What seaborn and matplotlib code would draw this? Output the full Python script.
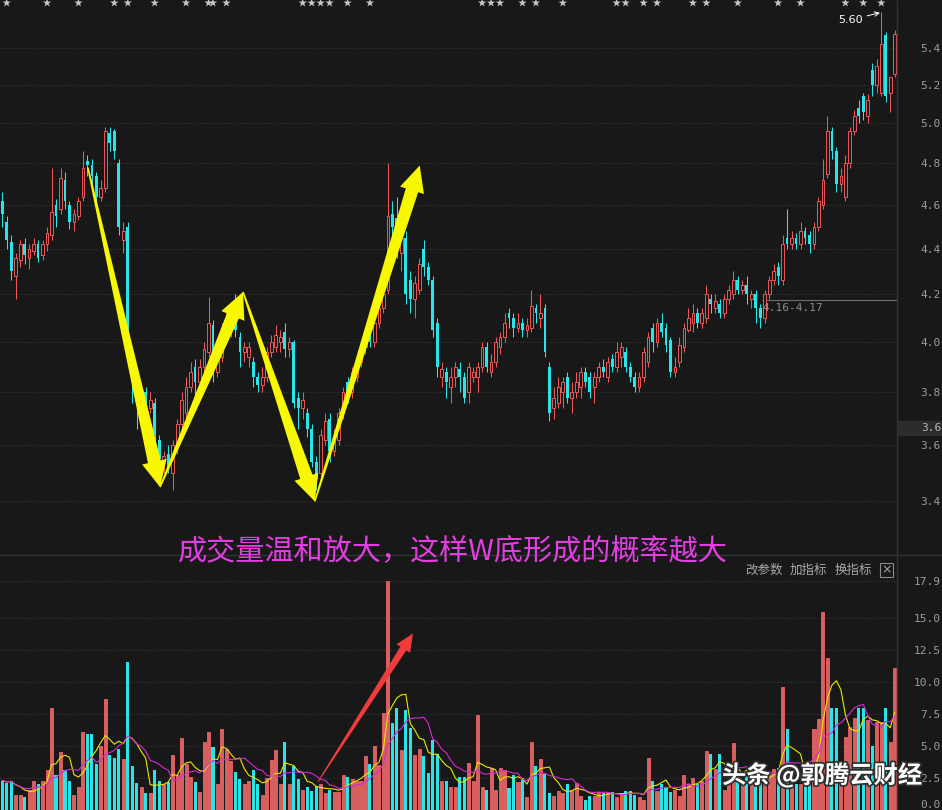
import numpy as np
import pandas as pd
import matplotlib
matplotlib.use('Agg')
import matplotlib.pyplot as plt
import matplotlib.patheffects as pe
from matplotlib.patches import Polygon, Rectangle
from matplotlib.lines import Line2D
from matplotlib.transforms import IdentityTransform, blended_transform_factory
from matplotlib.ticker import NullLocator
import seaborn as sns

# 日K线数据（按图上读数估计）
opens = [4.62, 4.52, 4.43, 4.28, 4.35, 4.42, 4.36, 4.39, 4.42, 4.37,
         4.42, 4.46, 4.60, 4.58, 4.72, 4.60, 4.52, 4.55, 4.64, 4.81,
         4.79, 4.74, 4.64, 4.68, 4.95, 4.96, 4.80, 4.44, 4.50, 3.92,
         3.83, 3.78, 3.80, 3.74, 3.76, 3.62, 3.54, 3.57, 3.50, 3.60,
         3.68, 3.72, 3.82, 3.90, 3.84, 3.90, 3.96, 4.07, 3.88, 3.94,
         4.06, 4.08, 4.10, 4.02, 3.96, 3.94, 3.92, 3.86, 3.83, 3.86,
         3.96, 3.98, 4.00, 4.04, 3.97, 4.00, 3.78, 3.74, 3.72, 3.66,
         3.54, 3.50, 3.62, 3.70, 3.58, 3.62, 3.72, 3.84, 3.80, 3.86,
         3.92, 3.98, 4.06, 4.00, 4.08, 4.14, 4.22, 4.56, 4.54, 4.38,
         4.45, 4.26, 4.18, 4.22, 4.40, 4.32, 4.26, 4.08, 3.86, 3.88,
         3.82, 3.86, 3.89, 3.86, 3.80, 3.86, 3.86, 3.90, 3.98, 3.88,
         3.92, 3.98, 4.02, 4.12, 4.10, 4.06, 4.08, 4.05, 4.06, 4.14,
         4.10, 4.14, 3.90, 3.74, 3.76, 3.80, 3.86, 3.78, 3.80, 3.82,
         3.88, 3.86, 3.82, 3.86, 3.90, 3.86, 3.93, 3.90, 3.94, 3.96,
         3.90, 3.86, 3.82, 3.86, 3.92, 4.06, 4.00, 4.08, 4.06, 4.01,
         3.88, 3.92, 3.98, 4.05, 4.08, 4.12, 4.08, 4.10, 4.18, 4.14,
         4.16, 4.12, 4.18, 4.20, 4.26, 4.22, 4.24, 4.18, 4.20, 4.14,
         4.10, 4.20, 4.26, 4.32, 4.26, 4.45, 4.42, 4.45, 4.42, 4.48,
         4.46, 4.42, 4.50, 4.60, 4.75, 4.96, 4.86, 4.70, 4.64, 4.80,
         4.96, 5.08, 5.14, 5.04, 5.28, 5.20, 5.16, 5.47, 5.16, 5.26]
closes = [4.56, 4.44, 4.30, 4.36, 4.42, 4.37, 4.40, 4.42, 4.36, 4.42,
          4.47, 4.57, 4.55, 4.73, 4.62, 4.52, 4.56, 4.62, 4.78, 4.79,
          4.74, 4.64, 4.68, 4.96, 4.90, 4.86, 4.50, 4.48, 3.96, 3.84,
          3.78, 3.81, 3.74, 3.77, 3.64, 3.55, 3.56, 3.52, 3.60, 3.68,
          3.77, 3.82, 3.88, 3.84, 3.90, 3.97, 4.08, 3.88, 3.94, 4.06,
          4.10, 4.10, 4.05, 3.96, 3.98, 3.98, 3.86, 3.83, 3.86, 3.96,
          4.00, 4.03, 4.02, 3.97, 4.00, 3.76, 3.74, 3.77, 3.66, 3.54,
          3.48, 3.64, 3.69, 3.58, 3.62, 3.72, 3.80, 3.80, 3.88, 3.92,
          3.98, 4.03, 4.00, 4.08, 4.14, 4.20, 4.55, 4.50, 4.40, 4.45,
          4.20, 4.18, 4.25, 4.33, 4.32, 4.26, 4.05, 3.90, 3.89, 3.84,
          3.86, 3.90, 3.86, 3.78, 3.90, 3.88, 3.90, 3.98, 3.90, 3.92,
          4.00, 4.02, 4.08, 4.10, 4.06, 4.08, 4.05, 4.07, 4.15, 4.12,
          4.12, 3.96, 3.72, 3.78, 3.82, 3.84, 3.78, 3.80, 3.84, 3.88,
          3.84, 3.80, 3.86, 3.90, 3.88, 3.92, 3.90, 3.96, 3.98, 3.90,
          3.86, 3.82, 3.86, 3.96, 4.02, 4.00, 4.08, 4.04, 3.99, 3.88,
          3.90, 3.99, 4.06, 4.10, 4.12, 4.08, 4.12, 4.20, 4.16, 4.17,
          4.12, 4.18, 4.22, 4.26, 4.22, 4.24, 4.20, 4.20, 4.14, 4.10,
          4.20, 4.26, 4.30, 4.28, 4.42, 4.42, 4.45, 4.42, 4.48, 4.45,
          4.42, 4.50, 4.62, 4.72, 4.96, 4.86, 4.70, 4.74, 4.80, 4.96,
          5.04, 5.04, 5.06, 5.12, 5.20, 5.30, 5.42, 5.14, 5.24, 5.48]
highs = [4.66, 4.55, 4.46, 4.38, 4.44, 4.45, 4.42, 4.45, 4.44, 4.44,
         4.50, 4.78, 4.63, 4.78, 4.76, 4.62, 4.58, 4.64, 4.86, 4.84,
         4.82, 4.76, 4.72, 4.98, 4.98, 4.97, 4.82, 4.52, 4.52, 3.93,
         3.86, 3.84, 3.82, 3.80, 3.78, 3.64, 3.58, 3.60, 3.62, 3.70,
         3.80, 3.86, 3.92, 3.93, 3.93, 4.00, 4.19, 4.09, 3.97, 4.08,
         4.14, 4.13, 4.20, 4.04, 4.00, 4.00, 3.94, 3.88, 3.90, 3.98,
         4.03, 4.07, 4.05, 4.08, 4.02, 4.01, 3.80, 3.80, 3.74, 3.68,
         3.56, 3.66, 3.72, 3.72, 3.66, 3.74, 3.82, 3.86, 3.90, 3.95,
         4.00, 4.06, 4.08, 4.11, 4.18, 4.24, 4.80, 4.62, 4.64, 4.50,
         4.48, 4.30, 4.28, 4.36, 4.44, 4.34, 4.28, 4.10, 3.92, 3.90,
         3.90, 3.92, 3.92, 3.88, 3.92, 3.90, 3.92, 4.00, 4.00, 3.95,
         4.02, 4.04, 4.12, 4.14, 4.12, 4.12, 4.10, 4.10, 4.22, 4.16,
         4.20, 4.16, 3.92, 3.82, 3.86, 3.86, 3.88, 3.84, 3.88, 3.90,
         3.90, 3.88, 3.88, 3.92, 3.93, 3.94, 3.95, 4.00, 4.00, 3.98,
         3.92, 3.88, 3.88, 3.98, 4.04, 4.08, 4.10, 4.12, 4.08, 4.02,
         3.94, 4.02, 4.08, 4.14, 4.16, 4.14, 4.14, 4.24, 4.20, 4.20,
         4.18, 4.20, 4.24, 4.30, 4.28, 4.26, 4.28, 4.22, 4.22, 4.16,
         4.22, 4.28, 4.33, 4.34, 4.46, 4.58, 4.48, 4.47, 4.52, 4.50,
         4.48, 4.52, 4.64, 4.82, 5.04, 4.98, 4.88, 4.78, 4.84, 4.98,
         5.07, 5.12, 5.16, 5.15, 5.32, 5.34, 5.60, 5.49, 5.24, 5.50]
lows = [4.50, 4.40, 4.26, 4.18, 4.32, 4.33, 4.31, 4.37, 4.34, 4.35,
        4.39, 4.44, 4.50, 4.56, 4.58, 4.49, 4.48, 4.53, 4.62, 4.74,
        4.70, 4.62, 4.62, 4.66, 4.86, 4.82, 4.46, 4.38, 3.94, 3.76,
        3.66, 3.76, 3.72, 3.72, 3.62, 3.52, 3.50, 3.50, 3.44, 3.57,
        3.66, 3.70, 3.80, 3.76, 3.82, 3.88, 3.94, 3.84, 3.86, 3.92,
        4.04, 4.02, 4.02, 3.90, 3.92, 3.90, 3.82, 3.80, 3.80, 3.84,
        3.94, 3.96, 3.96, 3.94, 3.94, 3.74, 3.66, 3.70, 3.63, 3.52,
        3.44, 3.48, 3.60, 3.54, 3.56, 3.60, 3.70, 3.76, 3.78, 3.84,
        3.90, 3.95, 3.98, 3.98, 4.06, 4.12, 4.20, 4.42, 4.36, 4.30,
        4.16, 4.12, 4.10, 4.20, 4.28, 4.24, 4.02, 3.86, 3.82, 3.78,
        3.76, 3.82, 3.80, 3.76, 3.76, 3.84, 3.80, 3.88, 3.88, 3.86,
        3.90, 3.95, 4.00, 4.06, 4.02, 4.04, 4.02, 4.02, 4.04, 4.08,
        4.06, 3.94, 3.69, 3.70, 3.74, 3.74, 3.76, 3.72, 3.78, 3.78,
        3.82, 3.78, 3.76, 3.84, 3.86, 3.84, 3.88, 3.88, 3.90, 3.88,
        3.84, 3.80, 3.80, 3.84, 3.90, 3.96, 3.98, 4.02, 3.96, 3.86,
        3.86, 3.90, 3.96, 4.04, 4.04, 4.06, 4.06, 4.08, 4.12, 4.12,
        4.10, 4.10, 4.16, 4.18, 4.20, 4.20, 4.16, 4.14, 4.08, 4.06,
        4.08, 4.18, 4.24, 4.24, 4.24, 4.40, 4.40, 4.40, 4.40, 4.42,
        4.38, 4.40, 4.48, 4.58, 4.73, 4.82, 4.66, 4.66, 4.62, 4.78,
        4.94, 5.00, 5.02, 5.00, 5.14, 5.16, 5.14, 5.11, 5.06, 5.24]
# 成交量（万手）
vols = [2.3, 2.1, 2.3, 1.2, 1.2, 1.0, 1.6, 2.3, 2.0, 2.3,
        3.1, 8.0, 2.7, 4.5, 3.1, 2.3, 1.2, 1.8, 6.1, 5.9,
        5.9, 3.6, 5.0, 8.7, 4.3, 4.1, 4.8, 4.0, 11.6, 3.4,
        2.1, 1.8, 1.3, 1.3, 3.1, 2.3, 2.0, 2.2, 4.3, 2.7,
        5.6, 3.6, 2.6, 2.2, 1.4, 5.3, 6.1, 4.9, 2.0, 6.3,
        4.8, 3.8, 3.0, 2.4, 2.0, 2.3, 3.1, 2.0, 1.2, 2.5,
        3.9, 4.7, 2.0, 5.3, 2.0, 3.4, 2.4, 1.6, 1.8, 1.5,
        1.9, 2.0, 1.3, 1.6, 1.4, 1.4, 2.7, 2.6, 2.4, 2.3,
        2.3, 4.2, 3.6, 5.0, 3.5, 7.6, 17.9, 6.8, 8.0, 4.7,
        7.8, 6.4, 4.3, 4.8, 4.2, 2.9, 5.5, 4.4, 2.3, 2.3,
        1.8, 1.8, 2.6, 2.6, 3.7, 2.3, 7.4, 1.8, 1.6, 3.3,
        1.6, 3.3, 3.1, 1.7, 2.7, 2.2, 2.5, 1.0, 5.3, 3.4,
        4.0, 2.8, 1.3, 1.1, 1.5, 1.3, 2.0, 1.6, 2.1, 1.1,
        0.8, 1.1, 1.1, 1.4, 1.3, 1.3, 1.4, 1.0, 1.3, 1.5,
        1.5, 1.2, 1.0, 0.8, 4.1, 2.3, 1.5, 2.0, 1.8, 1.4,
        1.6, 1.1, 2.7, 2.0, 2.5, 2.0, 2.3, 4.6, 4.4, 3.2,
        4.4, 1.6, 2.2, 5.2, 3.2, 2.0, 3.0, 2.1, 2.2, 2.7,
        2.5, 3.0, 3.2, 3.3, 9.6, 6.3, 2.0, 2.0, 2.0, 2.6,
        3.0, 6.3, 7.1, 15.5, 11.9, 8.0, 8.0, 3.6, 5.7, 6.5,
        7.2, 8.0, 8.0, 7.0, 5.0, 6.9, 6.9, 8.0, 5.3, 11.1]

price_ticks = [3.4, 3.6, 3.8, 4.0, 4.2, 4.4, 4.6, 4.8, 5.0, 5.2, 5.4]
price_labels = ['3.4', '3.6', '3.8', '4.0', '4.2', '4.4', '4.6', '4.8', '5.0', '5.2', '5.4']
vol_ticks = [0, 2.5, 5.0, 7.5, 10.0, 12.5, 15.0, 17.9]
vol_labels = ['0.0', '2.5', '5.0', '7.5', '10.0', '12.5', '15.0', '17.9']
# 信息地雷位置
mark_idx = [1, 10, 17, 25, 28, 34, 41, 46, 47, 50, 67, 69, 71, 73, 77, 82,
            107, 109, 111, 116, 119, 125, 137, 139, 143, 146, 154, 157, 164,
            173, 178, 188, 192, 196]

BG = '#181818'
RED = '#f05656'
CYAN = '#26e6ea'
GRID = '#3a3a3a'
LBL = '#9c9c9c'

sns.set_style('dark', {'axes.facecolor': BG, 'figure.facecolor': BG})
plt.rcParams['font.family'] = ['Noto Sans CJK SC', 'DejaVu Sans']
plt.rcParams['axes.unicode_minus'] = False

df = pd.DataFrame({'open': opens, 'close': closes, 'high': highs,
                   'low': lows, 'vol': vols})
df['idx'] = np.arange(len(df))
df['up'] = df['close'] >= df['open']
df['ma5'] = df['vol'].rolling(5, min_periods=1).mean()
df['ma10'] = df['vol'].rolling(10, min_periods=1).mean()
up = df[df['up']]
dn = df[~df['up']]

fig = plt.figure(figsize=(9.42, 8.10), dpi=100)
fig.patch.set_facecolor(BG)
ax = fig.add_axes([0, 0.3148, 0.9522, 0.6852])
axv = fig.add_axes([0, 0, 0.9522, 0.3111])

# ---- K线 ----
ax.set_yscale('log')
ax.vlines(up['idx'], up['low'], up['high'], colors=RED, lw=0.75, zorder=2)
ax.vlines(dn['idx'], dn['low'], dn['high'], colors=CYAN, lw=0.75, zorder=2)
ax.bar(up['idx'], up['close'] - up['open'], bottom=up['open'], width=0.62,
       facecolor=BG, edgecolor=RED, lw=0.7, zorder=3)
ax.bar(dn['idx'], dn['open'] - dn['close'], bottom=dn['close'], width=0.62,
       color=CYAN, lw=0, zorder=3)
sns.scatterplot(x=mark_idx, y=[5.654] * len(mark_idx), ax=ax, marker='*',
                s=40, color='#c8c8c8', edgecolor='none', legend=False, zorder=4)

# ---- 成交量 ----
axv.bar(up['idx'], up['vol'], width=0.68, facecolor='#d06464',
        edgecolor='#f56060', lw=0.6, zorder=2)
axv.bar(dn['idx'], dn['vol'], width=0.68, color=CYAN, lw=0, zorder=2)
sns.lineplot(data=df, x='idx', y='ma5', ax=axv, color='#e8e800', lw=0.8,
             legend=False, zorder=3)
sns.lineplot(data=df, x='idx', y='ma10', ax=axv, color='#d42ad4', lw=0.8,
             legend=False, zorder=3)

for a, ticks, labels in [(ax, price_ticks, price_labels),
                         (axv, vol_ticks, vol_labels)]:
    a.set_facecolor(BG)
    a.set_xlim(-0.49, 199.5)
    a.set(xlabel='', ylabel='')
    a.set_xticks([])
    a.yaxis.tick_right()
    a.set_yticks(ticks, labels=labels, fontfamily='DejaVu Sans Mono',
                 fontsize=8, color=LBL, ha='right')
    a.yaxis.set_minor_locator(NullLocator())
    a.tick_params(axis='y', length=0, pad=31.5)
    a.grid(axis='y', color=GRID, ls=(0, (1, 2)), lw=0.8)
    a.grid(axis='x', visible=False)
    for s in a.spines.values():
        s.set_visible(False)

ax.set_ylim(3.219, 5.671)
axv.set_ylim(0, 19.69)
axv.get_yticklabels()[0].set_verticalalignment('bottom')

# 分隔线
fig.add_artist(Line2D([0.9522, 0.9522], [0, 1], color='#333333', lw=1))
fig.add_artist(Line2D([0, 1], [0.3148, 0.3148], color='#333333', lw=1))

# 最新价框
fig.add_artist(Rectangle((0.953, 0.4630), 0.047, 0.0173, color='#2c2c2c',
                         zorder=5))
blend = blended_transform_factory(fig.transFigure, ax.transData)
fig.text(0.999, 3.664, '3.6', transform=blend, ha='right', va='center',
         fontsize=8, color='#b8b8b8', fontfamily='DejaVu Sans Mono', zorder=6)

# 区间线
ax.hlines(4.175, 169.3, 199.5, color='#707070', lw=0.8)
ax.text(169.6, 4.142, '4.16-4.17', ha='left', va='center', fontsize=8,
        color='#8a8a8a', fontfamily='DejaVu Sans Mono')

# 最高价标注
ax.annotate('5.60', xy=(196, 5.60), xytext=(-13.5, -5.5),
            textcoords='offset points', ha='right', va='center',
            color='white', fontsize=8, fontfamily='DejaVu Sans',
            arrowprops=dict(arrowstyle='->', color='white', lw=0.7,
                            shrinkA=1, shrinkB=1))

# 指标栏
for x0, t in [(745, '改参数'), (790, '加指标'), (835, '换指标')]:
    fig.text(x0 / 942, 1 - 570 / 810, t, fontsize=9, color='#a8a8a8',
             ha='left', va='center')
fig.add_artist(Rectangle((880 / 942, 1 - 577 / 810), 13 / 942, 14 / 810,
                         fill=False, ec='#8a8a8a', lw=0.8))
fig.text(886.5 / 942, 1 - 570 / 810, '×', fontsize=9, color='#a8a8a8',
         ha='center', va='center', fontfamily='DejaVu Sans')


def wedge_arrow(axis, start, end, w0, w1, hw, hl, color):
    p0 = axis.transData.transform(start)
    p1 = axis.transData.transform(end)
    d = p1 - p0
    u = d / np.hypot(*d)
    n = np.array([-u[1], u[0]])
    b = p1 - u * hl
    pts = [p0 + n * w0 / 2, b + n * w1 / 2, b + n * hw / 2, p1,
           b - n * hw / 2, b - n * w1 / 2, p0 - n * w0 / 2]
    fig.add_artist(Polygon(pts, closed=True, transform=IdentityTransform(),
                           fc=color, ec='none', zorder=10))


# W 底箭头
w_arrows = [((19.1, 4.78), (35.2, 3.45)),
            ((35.2, 3.45), (53.7, 4.21)),
            ((53.7, 4.21), (69.7, 3.40)),
            ((69.7, 3.40), (93.1, 4.79))]
for s, e in w_arrows:
    wedge_arrow(ax, s, e, 1.5, 13, 25, 26, '#f8f800')
wedge_arrow(axv, (70.4, 2.2), (91.6, 13.8), 1.0, 7, 16, 18, '#f03c3c')

fig.text(178 / 942, 1 - 552 / 810, '成交量温和放大，这样W底形成的概率越大',
         fontsize=21, color='#e23ee2', ha='left', va='center', zorder=11)
fig.text(722 / 942, 1 - 775 / 810, '头条 @郭腾云财经', fontsize=17.5,
         fontweight='bold', color='white', ha='left', va='center', zorder=11,
         path_effects=[pe.withStroke(linewidth=2.5, foreground='#303030')])

fig.savefig('out.png', dpi=100, facecolor=BG)
